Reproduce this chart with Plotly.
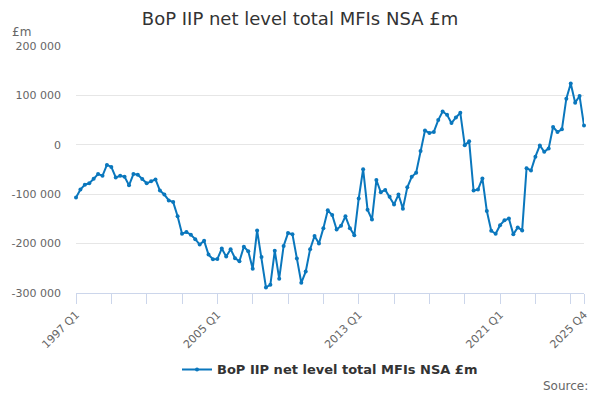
import plotly.graph_objects as go

# Quarter categories 1997 Q1 .. 2025 Q4
years = list(range(1997, 2026))
categories = [f"{y} Q{q}" for y in years for q in (1, 2, 3, 4)]

series_name = "BoP IIP net level total MFIs NSA £m"
values = [
    -106700, -90700, -80700, -78000, -68700, -59300, -62700, -40700, -44700, -66000,
    -62700, -64700, -82000, -59300, -60700, -69300, -78000, -74000, -70000, -92700,
    -100700, -112700, -116000, -144700, -180000, -176700, -182000, -191000, -202000, -194300,
    -222300, -231600, -231300, -210000, -226300, -211300, -229600, -235600, -206300, -215600,
    -250700, -173300, -227300, -288700, -283300, -214700, -271000, -204700, -178700, -181300,
    -230000, -279300, -256700, -211300, -184700, -200000, -168700, -132700, -142000, -171300,
    -164000, -144700, -168700, -183300, -108700, -49300, -131300, -151300, -71300, -96000,
    -91300, -105300, -120700, -100700, -129300, -86000, -64700, -56700, -12700, 28700,
    24000, 26000, 50000, 67300, 60700, 44000, 55300, 64700, -700, 7300,
    -92700, -90700, -68000, -134000, -174000, -180000, -162700, -152700, -149300, -181300,
    -167300, -173300, -47300, -52000, -24000, -1300, -14000, -7300, 36000, 26000,
    31300, 93300, 124000, 85300, 98700, 39300,
]

y_tickvals = [-300000, -200000, -100000, 0, 100000, 200000]
y_ticktext = ["-300 000", "-200 000", "-100 000", "0", "100 000", "200 000"]

x_label_cats = ["1997 Q1", "2005 Q1", "2013 Q1", "2021 Q1", "2025 Q4"]
x_tick_cats = categories[::8] + [categories[-1]]
x_tick_text = [c if c in x_label_cats else "" for c in x_tick_cats]

color = "#0a77bd"
font = "DejaVu Sans"

# page body has an 8px margin; figure pixel = page pixel - 8
W, H = 584, 384
L, R, T, B = 68, 8, 38, 94
plot_w = W - L - R
plot_h = H - T - B


def px(page_x):
    return (page_x - 8 - L) / plot_w


def py(page_y):
    return (H - B - (page_y - 8)) / plot_h


fig = go.Figure()
fig.add_trace(go.Scatter(
    x=categories, y=values, mode="lines+markers", name=series_name,
    line=dict(color=color, width=2),
    marker=dict(color=color, size=4),
    cliponaxis=False,
))

fig.update_layout(
    width=W, height=H,
    margin=dict(l=L, r=R, t=T, b=B),
    paper_bgcolor="white", plot_bgcolor="white",
    font=dict(family=font, color="#666666", size=11),
    title=dict(text="BoP IIP net level total MFIs NSA £m", x=0.5, xanchor="center",
               y=1 - 11 / H, yanchor="middle",
               font=dict(family=font, size=18, color="#333333")),
    showlegend=True,
    legend=dict(orientation="h", x=0.5, xanchor="center", y=py(376), yanchor="middle",
                font=dict(family=font, size=13, color="#333333", weight="bold"),
                bgcolor="rgba(0,0,0,0)"),
    xaxis=dict(
        type="category", categoryorder="array", categoryarray=categories,
        range=[0, len(categories) - 1],
        tickmode="array", tickvals=x_tick_cats, ticktext=x_tick_text,
        tickangle=-45, ticks="outside", ticklen=10, tickcolor="#ccd6eb",
        showline=True, linecolor="#ccd6eb", linewidth=1,
        showgrid=False, zeroline=False, automargin=False,
        tickfont=dict(family=font, size=11, color="#666666"),
    ),
    yaxis=dict(
        range=[-300000, 200000],
        tickmode="array", tickvals=y_tickvals, ticktext=y_ticktext,
        showgrid=True, gridcolor="#e6e6e6", gridwidth=1,
        zeroline=False, showline=False, ticks="", ticklabelstandoff=14,
        automargin=False,
        tickfont=dict(family=font, size=11, color="#666666"),
    ),
    annotations=[
        dict(text="£m", xref="paper", yref="paper", x=px(10), y=py(32),
             xanchor="left", yanchor="middle", showarrow=False,
             font=dict(family=font, size=12, color="#666666")),
        dict(text="Source:", xref="paper", yref="paper", x=px(590), y=py(393),
             xanchor="right", yanchor="middle", showarrow=False,
             font=dict(family=font, size=12, color="#666666")),
    ],
)

fig.write_html("out.html")
